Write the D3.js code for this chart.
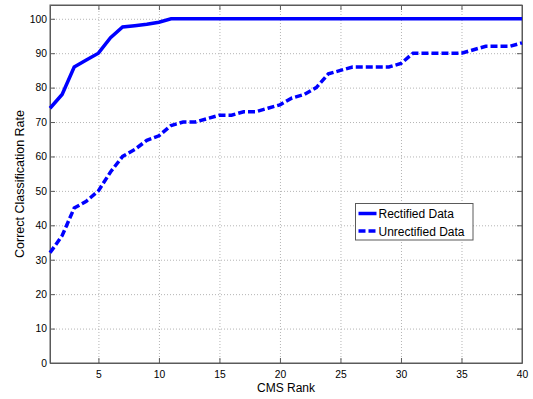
<!DOCTYPE html>
<meta charset="utf-8">
<head>
<script src="https://cdn.jsdelivr.net/npm/d3@7"></script>
<style>
body { margin: 0; background: #fff; font-family: "Liberation Sans", Arial, sans-serif; }
.grid line { stroke: #b4b4b4; stroke-dasharray: 1,2; }
.grid path { display: none; }
.axis path, .axis line { stroke: #5a5a5a; }
.axis text { fill: #000; font-size: 10.3px; }
</style>
</head>
<body>
<div id="chart"></div>
<script>

// chart values
var ranks = d3.range(1, 41);
var rectified = [74, 78, 86, 88, 90, 94.5, 97.6, 98, 98.4, 99,
                 100, 100, 100, 100, 100, 100, 100, 100, 100, 100,
                 100, 100, 100, 100, 100, 100, 100, 100, 100, 100,
                 100, 100, 100, 100, 100, 100, 100, 100, 100, 100];
var unrectified = [32, 37, 45, 47, 50, 55.5, 60, 62, 64.7, 66,
                   69, 70, 70, 71, 72, 72, 73, 73, 74, 75,
                   77, 78, 80, 84, 85, 86, 86, 86, 86, 87,
                   90, 90, 90, 90, 90, 91, 92, 92, 92, 93];
var xTicks = [5, 10, 15, 20, 25, 30, 35, 40];
var yTicks = [0, 10, 20, 30, 40, 50, 60, 70, 80, 90, 100];
var seriesNames = ["Rectified Data", "Unrectified Data"];

var margin = {top: 5, right: 11, bottom: 36, left: 50};
var width = 533 - margin.left - margin.right,
    height = 399 - margin.top - margin.bottom;

var x = d3.scaleLinear().domain([1, 40]).range([0, width]);
var y = d3.scaleLinear().domain([0, 104]).range([height, 0]);

var svg = d3.select("#chart").append("svg")
    .attr("width", 533)
    .attr("height", 399)
  .append("g")
    .attr("transform", "translate(" + margin.left + "," + margin.top + ")");

// dotted grid
svg.append("g")
    .attr("class", "grid")
    .attr("transform", "translate(0," + height + ")")
    .call(d3.axisBottom(x).tickValues(xTicks).tickSize(-height).tickFormat(""));
svg.append("g")
    .attr("class", "grid")
    .call(d3.axisLeft(y).tickValues(yTicks).tickSize(-width).tickFormat(""));

// box round the plot
svg.append("rect")
    .attr("width", width)
    .attr("height", height)
    .attr("fill", "none")
    .attr("stroke", "#5a5a5a");

// axes, ticks point inward like matlab
svg.append("g")
    .attr("class", "axis")
    .attr("transform", "translate(0," + height + ")")
    .call(d3.axisBottom(x).tickValues(xTicks).tickSizeInner(-5).tickSizeOuter(0).tickPadding(8));
svg.append("g")
    .attr("class", "axis")
    .call(d3.axisTop(x).tickValues(xTicks).tickSizeInner(-5).tickSizeOuter(0).tickFormat(""));
svg.append("g")
    .attr("class", "axis")
    .call(d3.axisLeft(y).tickValues(yTicks).tickSizeInner(-5).tickSizeOuter(0).tickPadding(3));
svg.append("g")
    .attr("class", "axis")
    .attr("transform", "translate(" + width + ",0)")
    .call(d3.axisRight(y).tickValues(yTicks).tickSizeInner(-5).tickSizeOuter(0).tickFormat(""));

var line = d3.line()
    .x(function(d, i) { return x(ranks[i]); })
    .y(function(d) { return y(d); });

svg.append("path")
    .datum(rectified)
    .attr("fill", "none")
    .attr("stroke", "#0000ff")
    .attr("stroke-width", 3.5)
    .attr("d", line);

svg.append("path")
    .datum(unrectified)
    .attr("fill", "none")
    .attr("stroke", "#0000ff")
    .attr("stroke-width", 3.5)
    .attr("stroke-dasharray", "7,3")
    .attr("d", line);

// axis titles
svg.append("text")
    .attr("x", width / 2)
    .attr("y", height + 29)
    .attr("text-anchor", "middle")
    .style("font-size", "12px")
    .text("CMS Rank");

svg.append("text")
    .attr("transform", "translate(-26," + (height / 2) + ") rotate(-90)")
    .attr("text-anchor", "middle")
    .style("font-size", "12.5px")
    .text("Correct Classification Rate");

// legend
var legend = svg.append("g")
    .attr("transform", "translate(" + (355.5 - margin.left) + "," + (203.5 - margin.top) + ")");
legend.append("rect")
    .attr("width", 117.5)
    .attr("height", 36.5)
    .attr("fill", "#fff")
    .attr("stroke", "#5a5a5a");

seriesNames.forEach(function(name, i) {
  var ly = 10 + i * 17.5;
  legend.append("line")
      .attr("x1", 3).attr("x2", 21)
      .attr("y1", ly).attr("y2", ly)
      .attr("stroke", "#0000ff")
      .attr("stroke-width", 3.5)
      .attr("stroke-dasharray", i == 1 ? "7,3" : null);
  legend.append("text")
      .attr("x", 23)
      .attr("y", ly + 4.5)
      .style("font-size", "12px")
      .text(name);
});

</script>
</body>
